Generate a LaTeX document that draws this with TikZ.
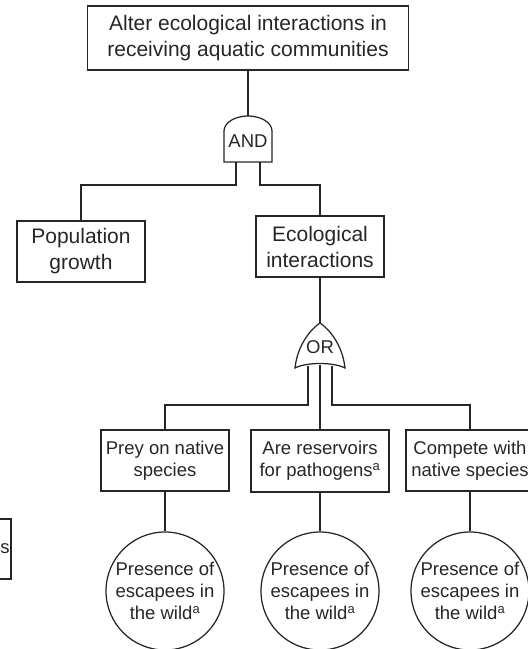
\documentclass[tikz,border=0pt]{standalone}
\usepackage{fontspec}
\setmainfont{Liberation Sans}
\begin{document}
\begin{tikzpicture}[x=1pt,y=-1pt,
  line width=1.25pt,
  ln/.style={draw=black!85},
  big/.style={font=\fontsize{21}{26}\selectfont},
  small/.style={font=\fontsize{18.5}{22}\selectfont},
  gatelbl/.style={font=\fontsize{18.5}{20}\selectfont, text=black!85, inner sep=0pt},
  evbox/.style={draw=black!85, rectangle, align=center, inner sep=0pt, text=black!85},
  basic/.style={draw=black!85, circle, minimum size=118pt, inner sep=0pt, align=center, text=black!85, font=\fontsize{18.5}{22}\selectfont}
]
\useasboundingbox (0,0) rectangle (528,649);
\clip (0,0) rectangle (528,649);

% event boxes
\node[evbox, big, minimum width=321pt, minimum height=64pt] (top) at (248,38)
  {Alter ecological interactions in\\receiving aquatic communities};
\node[evbox, big, minimum width=128pt, minimum height=61pt] (pop) at (81,251.5)
  {Population\\growth};
\node[evbox, big, minimum width=128pt, minimum height=61pt] (eco) at (320,246.5)
  {Ecological\\interactions};
\node[evbox, small, minimum width=128pt, minimum height=61pt] (prey) at (165,460.5)
  {Prey on native\\species};
\node[evbox, small, minimum width=138pt, minimum height=62pt] (res) at (320,461)
  {Are reservoirs\\for pathogens\textsuperscript{a}};
\node[evbox, small, minimum width=128pt, minimum height=61pt] (comp) at (470,460.5)
  {Compete with\\native species};
\node[evbox, minimum width=128pt, minimum height=60pt] (part) at (-53,549) {};
\node[small, text=black!85, inner sep=0pt, anchor=west] (parttxt) at (-0.3,549) {s};

% basic events
\node[basic] (c1) at (165,591) {Presence of\\escapees in\\the wild\textsuperscript{a}};
\node[basic] (c2) at (320,591) {Presence of\\escapees in\\the wild\textsuperscript{a}};
\node[basic] (c3) at (470,591) {Presence of\\escapees in\\the wild\textsuperscript{a}};

% AND gate
\draw[ln] (224,162) -- (224,131) arc[start angle=180, end angle=360, x radius=24, y radius=15] -- (272,162) -- cycle;
\node[gatelbl] (andlbl) at (248,141) {AND};
\coordinate (andtop) at (248,116);
\coordinate (andl) at (236,162);
\coordinate (andr) at (260,162);

% OR gate
\draw[ln] (320,323) .. controls (307,332) and (297,349) .. (295,368)
  .. controls (306,362) and (334,362) .. (345,368)
  .. controls (343,349) and (333,332) .. (320,323) -- cycle;
\node[gatelbl] (orlbl) at (320,347) {OR};
\coordinate (ortop) at (320,323);
\coordinate (orl) at (308,365.5);
\coordinate (orc) at (320,364.5);
\coordinate (orr) at (332,365.5);

% connectors
\draw[ln] (top.south) -- (andtop);
\draw[ln] (andl) -- (236,185) -| (pop.north);
\draw[ln] (andr) -- (260,185) -| (eco.north);
\draw[ln] (eco.south) -- (ortop);
\draw[ln] (orl) -- (308,405) -| (prey.north);
\draw[ln] (orc) -- (res.north);
\draw[ln] (orr) -- (332,405) -| (comp.north);
\draw[ln] (prey.south) -- (c1.north);
\draw[ln] (res.south) -- (c2.north);
\draw[ln] (comp.south) -- (c3.north);
\end{tikzpicture}
\end{document}
